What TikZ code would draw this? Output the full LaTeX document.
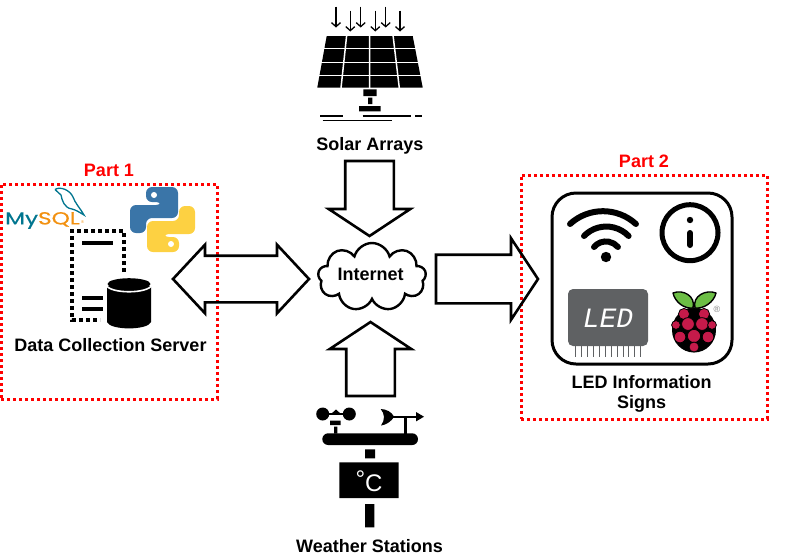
\documentclass[tikz,border=0pt]{standalone}
\usepackage{fontspec}
\setmainfont{Liberation Sans}
\newfontfamily\mysqlfont[FakeStretch=1.32,FakeBold=0.6]{Poppins}
\newfontfamily\ledfont{Liberation Mono}
\usetikzlibrary{positioning,shapes.arrows,shapes.symbols,arrows.meta}
\definecolor{partred}{RGB}{255,0,0}
\definecolor{pyblue}{RGB}{58,117,168}
\definecolor{pyyellow}{RGB}{253,209,66}
\definecolor{sqlteal}{RGB}{0,117,143}
\definecolor{sqlorange}{RGB}{242,145,17}
\definecolor{ledgray}{RGB}{95,97,99}
\definecolor{berry}{RGB}{197,26,74}
\definecolor{leaf}{RGB}{108,190,69}
\tikzset{
    boldlabel/.style={font=\fontsize{18}{20}\selectfont\bfseries,align=center,inner sep=0pt},
    partlabel/.style={boldlabel,text=partred},
    partbox/.style={draw=partred,line width=3pt,dash pattern=on 3pt off 3pt,inner sep=0pt,outer sep=0pt},
    bigarrow/.style={draw,line width=2.6pt,single arrow,inner sep=0pt,inner ysep=23pt,outer sep=0pt,single arrow tip angle=113,anchor=tail},
    sunray/.style={-{Straight Barb[length=4pt,width=9pt]},line width=1.3pt},
    rack/.style={line width=1.3pt},
    wave/.style={line width=6pt,line cap=round},
    berrydot/.style={fill=berry,draw=black,line width=0.8pt}
}
\begin{document}
\begin{tikzpicture}[x=1pt,y=-1pt]
    \useasboundingbox (0,0) rectangle (786,558);
    \node (box1) [partbox,minimum width=216pt,minimum height=215pt] at (109,291.5) {};
    \node (box2) [partbox,minimum width=246pt,minimum height=244pt] at (644,297) {};
    \node (part1) [partlabel,above=7pt of box1] {Part 1};
    \node (part2) [partlabel,above=7pt of box2] {Part 2};
    \node (server) [boldlabel] at (110.5,345) {Data Collection Server};
    \node (signs) [boldlabel] at (641.7,394) {LED Information\\Signs};
    \node (solar) [boldlabel] at (370,145.5) {Solar Arrays};
    \node (weather) [boldlabel] at (369.5,546) {Weather Stations};
    \node (cloud) [draw,cloud,cloud puffs=9,aspect=1.7,line width=2.4pt,outer sep=0pt,inner sep=0pt,minimum width=108pt,minimum height=68pt] at (372,277) {};
    \node (internet) [boldlabel] at (370.7,274.5) {Internet};
    \node (arrowsolar) [bigarrow,rotate=-90,minimum height=75pt,minimum width=79pt,single arrow head extend=16.5pt] at (369.5,161) {};
    \node (arrowweather) [bigarrow,rotate=90,minimum height=74pt,minimum width=79pt,single arrow head extend=16.5pt] at (370.5,396) {};
    \node (arrowsign) [bigarrow,minimum height=102pt,minimum width=79pt,single arrow head extend=16.5pt] at (436,279) {};
    \node (arrowserver) [draw,line width=2.6pt,double arrow,inner sep=0pt,inner ysep=22pt,outer sep=0pt,double arrow tip angle=94,minimum height=136pt,minimum width=66pt,double arrow head extend=11pt] at (241,279) {};
    % solar panel
    \fill (326.7,36) -- (412.7,36) -- (422.7,87.5) -- (317.3,87.5) -- cycle;
    \foreach \y in {48.7,62.4,75.7}
        \draw[white,line width=1.3pt] (315,\y) -- (425,\y);
    \draw[white,line width=1.5pt] (346.7,35) -- (341,88) (369.5,35) -- (369.5,88) (393,35) -- (399.3,88);
    \fill (363.3,89.3) rectangle (376.7,96) (368,97.7) rectangle (372.3,104) (359,106) rectangle (380.7,111.3);
    \draw[rack] (320,116) -- (343.3,116) (362.7,116) -- (411.3,116) (415,116) -- (422,116) (322.7,120.7) -- (392,120.7);
    \foreach \x in {336,360.7,385.7}
        \draw[sunray] (\x,6.7) -- (\x,27.5);
    \foreach \x in {350.3,375.3,400}
        \draw[sunray] (\x,10.7) -- (\x,31.5);
    % weather station
    \fill[rounded corners=5.8pt] (322.3,433.3) rectangle (418,445);
    \fill (322.7,414) circle (6.5pt) (349.3,414) circle (6.5pt);
    \draw[line width=1.5pt] (322.7,414) -- (349.3,414);
    \fill (331,414) -- (336,409.5) -- (341,414) -- cycle;
    \fill (330,420.7) rectangle (340.7,425) (334,426.7) rectangle (337.3,433.5);
    \fill (403.8,416.7) rectangle (406.6,433.5);
    \draw[line width=2pt] (388,416.7) -- (418,416.7);
    \fill (416,412) -- (424,416.7) -- (416,421.4) -- cycle;
    \fill (380.7,409) .. controls (386,409) and (392,412) .. (394,416.7) .. controls (392,421) and (386,425) .. (381,425.5) .. controls (385,420) and (385,414) .. (380.7,409);
    \fill (365,449.3) rectangle (375,458.3) (339.3,462.3) rectangle (398.7,498) (365,504) rectangle (374.3,527.3);
    \node (celsius) [text=white,font=\fontsize{24}{24}\selectfont] at (369,481.5) {\raisebox{4pt}{°}C};
    % server
    \draw[line width=3.5pt,dash pattern=on 4pt off 3pt] (124,272) -- (124,231) -- (72,231) -- (72,320) -- (100,320);
    \draw[line width=3.5pt] (82,243) -- (113,243) (82,298) -- (103,298) (82,309) -- (103,309);
    \fill (107,286) -- (107,322) .. controls (110,330.5) and (148,330.5) .. (151,322) -- (151,286) -- cycle;
    \draw[white,line width=1.6pt] (106,285) .. controls (110,294) and (148,294) .. (152,285);
    \fill (129,284) ellipse [x radius=21.5pt,y radius=5.8pt];
    % mysql
    \node (mysql) [inner sep=0pt,anchor=west,font=\mysqlfont\fontsize{17.5}{18}\selectfont] at (5,220.5) {\textcolor{sqlteal}{My}\textcolor{sqlorange}{SQL}};
    \node (sqlmark) [inner sep=0pt,text=sqlorange,font=\fontsize{4}{4}\selectfont] at (82.5,222.5) {®};
    \draw[sqlteal,line width=1.3pt,fill=white] (55,189.5) .. controls (60,186) and (70,190) .. (73,197) .. controls (75,203) and (80,208) .. (84,215) .. controls (79,212) and (76,210) .. (72,209) .. controls (64,208) and (62,200) .. (61,195) -- (55,189.5);
    % python
    \fill[pyblue,rounded corners=6pt] (146,202) -- (146,187) -- (178,187) -- (178,218) -- (146,218) -- (146,233) -- (130,233) -- (130,205) -- (162,205) -- (162,202) -- cycle;
    \fill[pyyellow,rounded corners=6pt] (179,237) -- (179,252) -- (147,252) -- (147,221) -- (179,221) -- (179,206) -- (195,206) -- (195,234) -- (163,234) -- (163,237) -- cycle;
    \fill[white] (154,195) circle (3pt) (171,244) circle (3pt);
    % sign
    \draw[line width=3pt,rounded corners=24pt] (552,193) rectangle (732,364);
    \fill (606,257) circle (5.2pt);
    \draw[wave] (570,224) arc [start angle=132.5,end angle=47.5,radius=48.8pt];
    \draw[wave] (584,236) arc [start angle=136,end angle=44,radius=31pt];
    \draw[wave] (594,247) arc [start angle=140,end angle=40,radius=15.6pt];
    \draw[line width=5pt] (690,232.7) circle (28pt);
    \fill (690,220) circle (3.2pt);
    \draw[line width=6pt,line cap=round] (690,233) -- (690,245);
    \fill[ledgray,rounded corners=5pt] (568,289) rectangle (648,346);
    \foreach \x in {0,...,11}
        \draw[ledgray,line width=0.8pt] (575.7+\x*5.9,346) -- (575.7+\x*5.9,357);
    \node (led) [text=white,font=\ledfont\itshape\fontsize{28}{28}\selectfont,inner sep=0pt] at (608,318) {LED};
    \fill (694,330) ellipse [x radius=22pt,y radius=22.5pt];
    \draw[fill=leaf,line width=1.4pt,line join=round] (693,308) .. controls (684,309) and (675,302) .. (673,293) .. controls (683,289) and (696,296) .. (693,308);
    \draw[fill=leaf,line width=1.4pt,line join=round] (695,308) .. controls (704,309) and (714,302) .. (716,293) .. controls (706,289) and (692,296) .. (695,308);
    \foreach \x/\y/\r in {684/314/5.6,704/314/5.6,676/325/4.4,688/324/6.4,702/324/6.4,712/325/4.4,680/337/5.8,694/336/6.6,708/337/5.8,694/347/5}
        \draw[berrydot] (\x,\y) circle (\r pt);
    \node (rpimark) [inner sep=0pt,text=gray,font=\fontsize{9}{9}\selectfont] at (717,309) {®};
\end{tikzpicture}
\end{document}
